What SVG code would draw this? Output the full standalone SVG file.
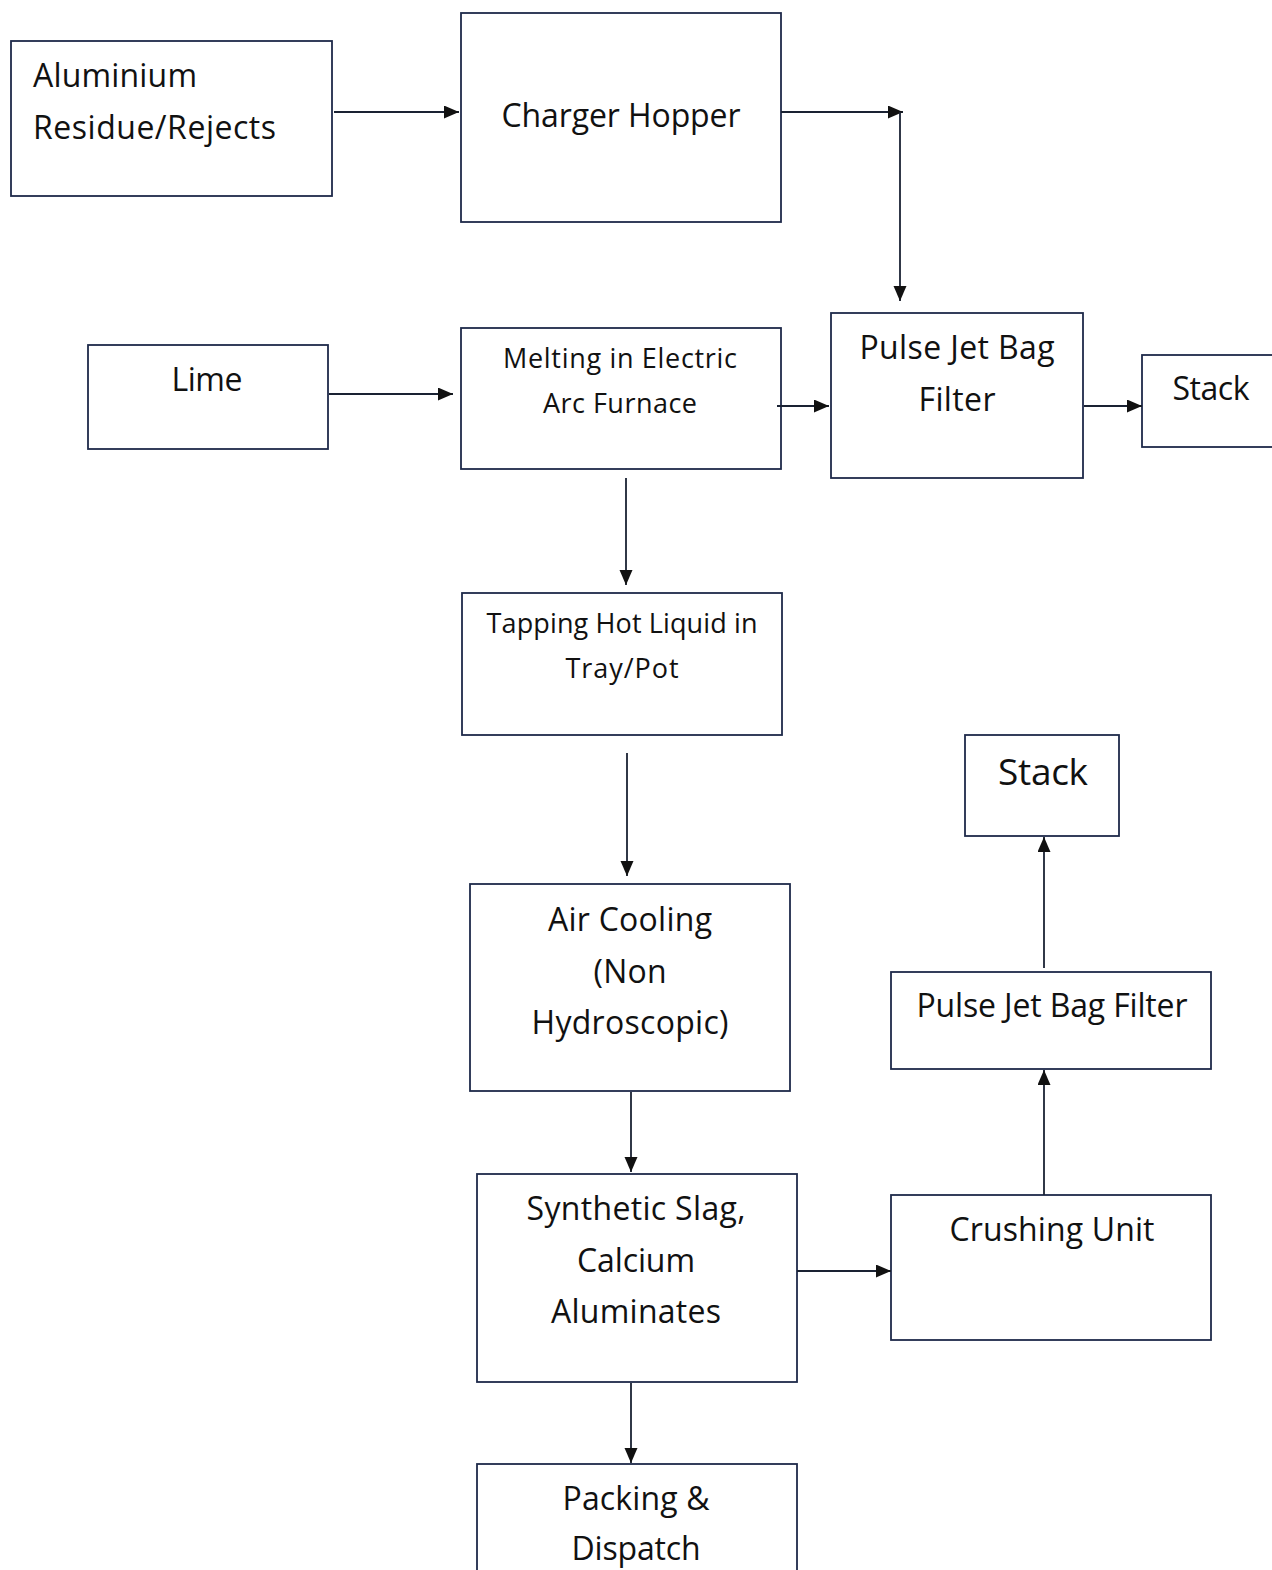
<svg xmlns="http://www.w3.org/2000/svg" width="1272" height="1570" viewBox="0 0 1272 1570">
<style>
.box{fill:#fff;stroke:#1e2a4a;stroke-width:1.8}
.t{font-family:"Open Sans","Noto Sans","Liberation Sans",sans-serif;fill:#111;text-anchor:middle}
.s30{font-size:32px}
.s25{font-size:27px}
.s36{font-size:37px}
.c{stroke:#1a2233;stroke-width:1.8;fill:none;marker-end:url(#ah)}
</style>
<defs>
<marker id="ah" markerUnits="userSpaceOnUse" markerWidth="16" markerHeight="14" refX="15" refY="6.5" orient="auto">
<path d="M0,0 L15,6.5 L0,13 z" fill="#111"/>
</marker>
</defs>
<rect width="1272" height="1570" fill="#fff"/>
<g id="n-aluminium">
<rect class="box" x="11" y="41" width="321" height="155"/>
<text class="t s30" x="33" y="87" style="text-anchor:start" textLength="164">Aluminium</text>
<text class="t s30" x="33" y="139" style="text-anchor:start" textLength="243">Residue/Rejects</text>
</g>
<g id="n-charger">
<rect class="box" x="461" y="13" width="320" height="209"/>
<text class="t s30" x="621" y="127" textLength="239">Charger Hopper</text>
</g>
<g id="n-lime">
<rect class="box" x="88" y="345" width="240" height="104"/>
<text class="t s30" x="207" y="391" textLength="71">Lime</text>
</g>
<g id="n-melting">
<rect class="box" x="461" y="328" width="320" height="141"/>
<text class="t s25" x="620" y="368" textLength="234">Melting in Electric</text>
<text class="t s25" x="620" y="413" textLength="154">Arc Furnace</text>
</g>
<g id="n-pulse1">
<rect class="box" x="831" y="313" width="252" height="165"/>
<text class="t s30" x="957" y="359" textLength="195">Pulse Jet Bag</text>
<text class="t s30" x="957" y="411" textLength="77">Filter</text>
</g>
<g id="n-stack1">
<rect class="box" x="1142" y="355" width="140" height="92"/>
<text class="t s30" x="1211" y="400" textLength="77">Stack</text>
</g>
<g id="n-tapping">
<rect class="box" x="462" y="593" width="320" height="142"/>
<text class="t s25" x="622" y="633" textLength="271">Tapping Hot Liquid in</text>
<text class="t s25" x="622" y="678" textLength="113">Tray/Pot</text>
</g>
<g id="n-stack2">
<rect class="box" x="965" y="735" width="154" height="101"/>
<text class="t s36" x="1043" y="785" textLength="90">Stack</text>
</g>
<g id="n-air">
<rect class="box" x="470" y="884" width="320" height="207"/>
<text class="t s30" x="630" y="931" textLength="164">Air Cooling</text>
<text class="t s30" x="630" y="983" textLength="73">(Non</text>
<text class="t s30" x="630" y="1034" textLength="197">Hydroscopic)</text>
</g>
<g id="n-pulse2">
<rect class="box" x="891" y="972" width="320" height="97"/>
<text class="t s30" x="1052" y="1017" textLength="271">Pulse Jet Bag Filter</text>
</g>
<g id="n-synthetic">
<rect class="box" x="477" y="1174" width="320" height="208"/>
<text class="t s30" x="636" y="1220" textLength="219">Synthetic Slag,</text>
<text class="t s30" x="636" y="1272" textLength="118">Calcium</text>
<text class="t s30" x="636" y="1323" textLength="170">Aluminates</text>
</g>
<g id="n-crushing">
<rect class="box" x="891" y="1195" width="320" height="145"/>
<text class="t s30" x="1052" y="1241" textLength="205">Crushing Unit</text>
</g>
<g id="n-packing">
<rect class="box" x="477" y="1464" width="320" height="120"/>
<text class="t s30" x="636" y="1510" textLength="147">Packing &amp;</text>
<text class="t s30" x="636" y="1560" textLength="129">Dispatch</text>
</g>
<g id="connectors">
<line class="c" x1="334" y1="112" x2="459" y2="112"/>
<line class="c" x1="781" y1="112" x2="903" y2="112"/>
<line class="c" x1="900" y1="112" x2="900" y2="301"/>
<line class="c" x1="329" y1="394" x2="453" y2="394"/>
<line class="c" x1="777" y1="406" x2="829" y2="406"/>
<line class="c" x1="1084" y1="406" x2="1142" y2="406"/>
<line class="c" x1="626" y1="478" x2="626" y2="585"/>
<line class="c" x1="627" y1="753" x2="627" y2="876"/>
<line class="c" x1="631" y1="1092" x2="631" y2="1172"/>
<line class="c" x1="797" y1="1271" x2="891" y2="1271"/>
<line class="c" x1="631" y1="1383" x2="631" y2="1463"/>
<line class="c" x1="1044" y1="1195" x2="1044" y2="1070"/>
<line class="c" x1="1044" y1="968" x2="1044" y2="837"/>
</g>
</svg>
